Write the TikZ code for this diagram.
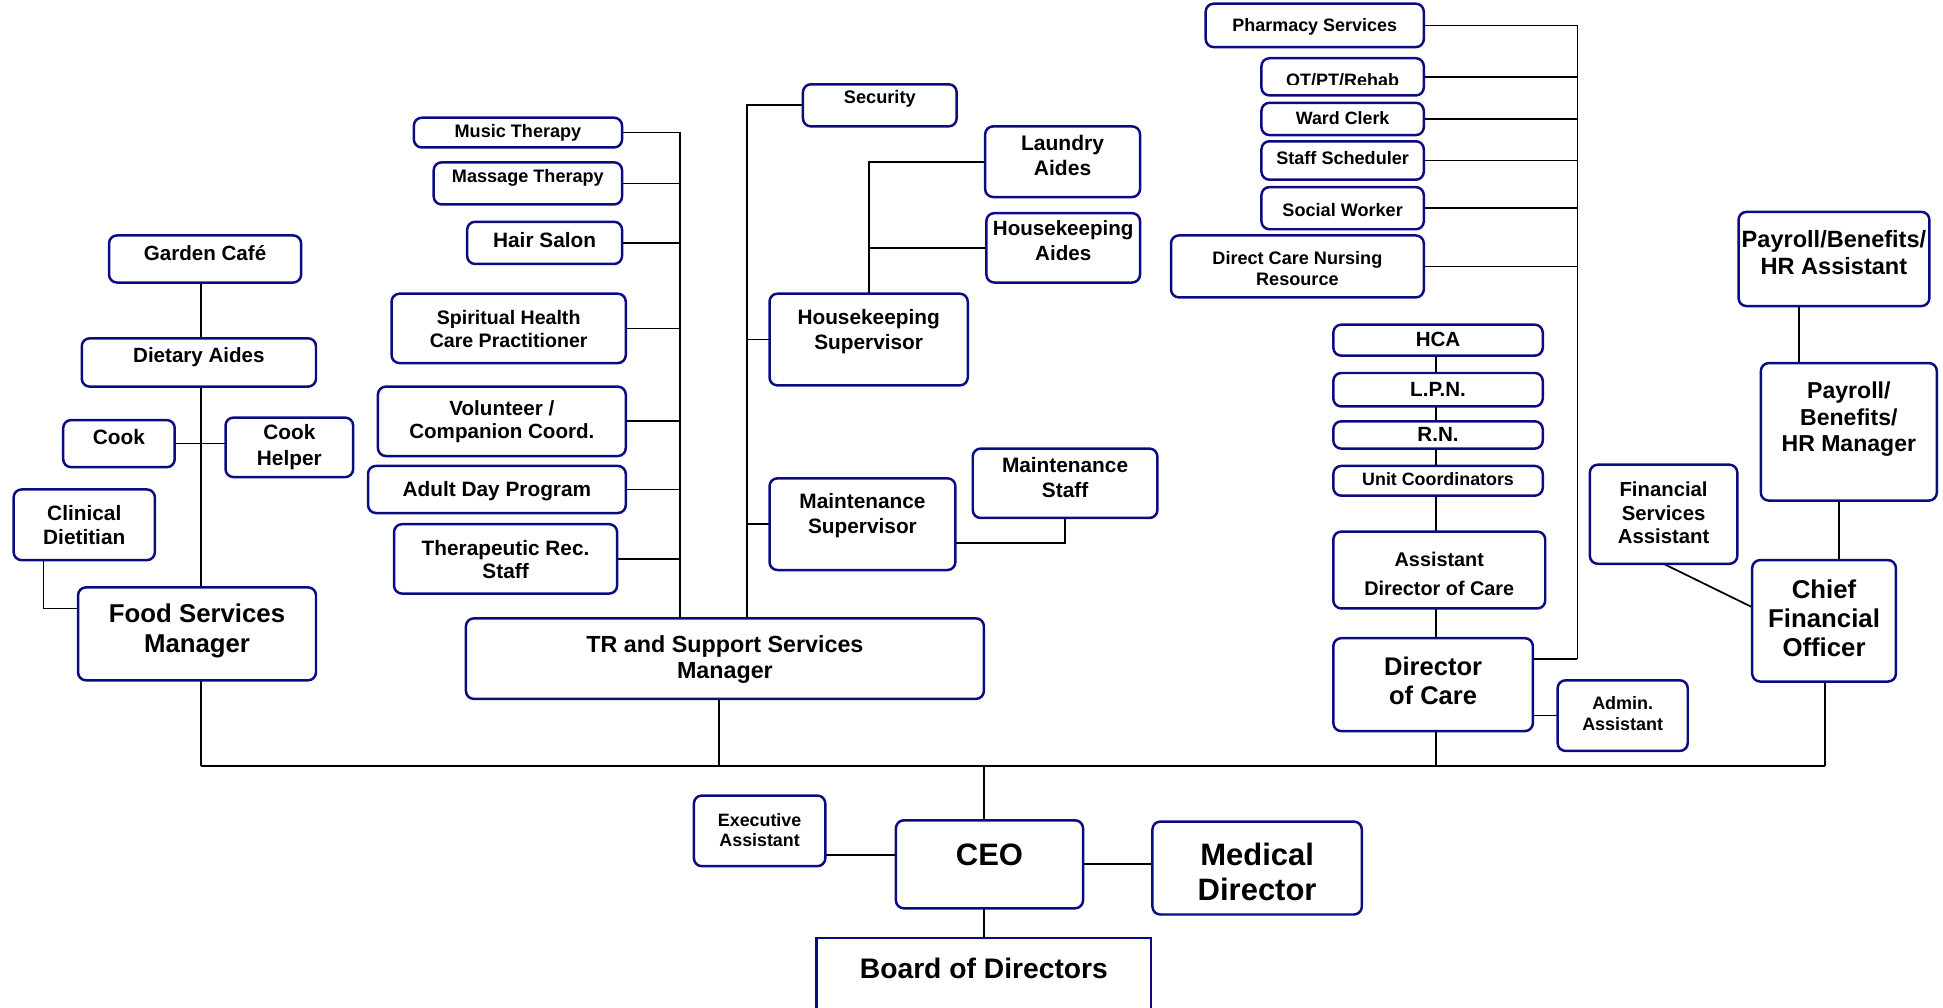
\documentclass[tikz,border=0pt]{standalone}
\usepackage{fontspec}
\setmainfont{Liberation Sans}
\definecolor{navy}{RGB}{12,12,130}
\pgfdeclarelayer{bg}
\pgfsetlayers{bg,main}
\newcommand\fs[2]{\fontsize{#1pt}{#2pt}\selectfont\bfseries}
\tikzset{
  orgbox/.style={draw=navy, line width=1pt, rounded corners=3.2pt, fill=white, inner sep=0pt, outer sep=0pt},
  orgtext/.style={align=center, inner sep=0pt, text=black},
  link/.style={draw=black, line width=0.7pt},
}
% #1 extra style, #2 name, #3 x1, #4 y1, #5 x2, #6 y2, #7 text y, #8 font, #9 text
\newcommand\obox[9][]{%
  \pgfmathsetmacro\obw{(#5-#3)*0.5}%
  \pgfmathsetmacro\obh{(#6-#4)*0.5}%
  \node[orgbox, minimum width=\obw pt, minimum height=\obh pt, #1] (#2) at ({(#3+#5)/2},{(#4+#6)/2}) {};%
  \node[orgtext, font=#8] (#2-t) at ({(#3+#5)/2},#7) {#9};%
}
\begin{document}
\begin{tikzpicture}[x=0.5pt, y=-0.5pt]
\path[use as bounding box] (0,0) rectangle (1568,813);
\clip (0,0) rectangle (1568,813);
% ---------- left group
\obox{garden}{88}{190}{243}{228}{204}{\fs{8.3}{10}}{Garden Café}
\obox{diet}{66}{273}{255}{312}{288}{\fs{8.3}{10}}{Dietary Aides}
\obox{cook}{51}{339}{141}{377}{353}{\fs{8.4}{10}}{Cook}
\obox{helper}{182}{337}{285}{385}{361}{\fs{8.4}{10.5}}{Cook\\Helper}
\obox{clin}{11}{395}{125}{452}{424}{\fs{8.4}{9.7}}{Clinical\\Dietitian}
\obox{fsm}{63}{474}{255}{549}{509}{\fs{10.4}{12}}{Food Services\\Manager}
% ---------- TR group
\obox{mus}{334}{95}{502}{119}{107}{\fs{7.3}{8}}{Music Therapy}
\obox{mas}{350}{131}{502}{165}{143.5}{\fs{7.3}{8}}{Massage Therapy}
\obox{hair}{377}{179}{502}{213}{193.5}{\fs{8.4}{10}}{Hair Salon}
\obox{spir}{316}{237}{505}{293}{265.5}{\fs{7.9}{9.3}}{Spiritual Health\\Care Practitioner}
\obox{vol}{305}{312}{505}{368}{340.5}{\fs{8.3}{9.4}}{Volunteer /\\Companion Coord.}
\obox{adult}{297}{376}{505}{414}{396}{\fs{8.4}{10}}{Adult Day Program}
\obox{ther}{318}{423}{498}{479}{451.5}{\fs{8.4}{9.4}}{Therapeutic Rec.\\Staff}
\obox{trm}{376}{499}{794}{564}{532.5}{\fs{9.4}{10.4}}{TR and Support Services\\Manager}
% ---------- support group
\obox{sec}{648}{68}{772}{102}{80}{\fs{7.35}{8}}{Security}
\obox{laun}{795}{102}{920}{159}{125.5}{\fs{8.5}{10}}{Laundry\\Aides}
\obox{haid}{796}{172}{920}{228}{194.5}{\fs{8.3}{10}}{Housekeeping\\Aides}
\obox{hsup}{621}{237}{781}{311}{267.5}{\fs{8.4}{10}}{Housekeeping\\Supervisor}
\obox{msup}{621}{386}{771}{460}{416}{\fs{8.4}{10}}{Maintenance\\Supervisor}
\obox{mst}{785}{362}{934}{418}{385.5}{\fs{8.4}{9.8}}{Maintenance\\Staff}
% ---------- care group
\obox{pharm}{973}{3}{1149}{38}{22}{\fs{7.25}{8}}{Pharmacy Services}
\node[orgbox, minimum width=65.5pt, minimum height=15pt] (otpt) at (1083.5,62) {};
\begin{scope}
  \clip (1018,40) rectangle (1149,68.4);
  \node[orgtext, font=\fs{7.25}{8}, anchor=base] (otpt-t) at (1083.5,69.5) {OT/PT/Rehab};
\end{scope}
\obox{ward}{1018}{83}{1149}{109}{95.5}{\fs{7.2}{8}}{Ward Clerk}
\obox{sched}{1018}{114}{1149}{145}{127.5}{\fs{7.3}{8}}{Staff Scheduler}
\obox{soc}{1018}{151}{1149}{185}{169.5}{\fs{7.3}{8}}{Social Worker}
\obox{dcnr}{945}{190}{1149}{240}{217}{\fs{7.3}{8.4}}{Direct Care Nursing\\Resource}
\obox{hca}{1076}{262}{1245}{287}{274}{\fs{8.3}{9}}{HCA}
\obox{lpn}{1076}{301}{1245}{328}{314}{\fs{8.3}{9}}{L.P.N.}
\obox{rn}{1076}{340}{1245}{362}{350.5}{\fs{8.3}{9}}{R.N.}
\obox{uc}{1076}{376}{1245}{400}{386.5}{\fs{7.2}{8}}{Unit Coordinators}
\obox{adoc}{1076}{429}{1247}{491}{463}{\fs{8}{11.7}}{Assistant\\Director of Care}
\obox{doc}{1076}{515}{1237}{590}{549.5}{\fs{10.3}{11.8}}{Director\\of Care}
\obox{adm}{1257}{549}{1362}{606}{576}{\fs{7.25}{8.5}}{Admin.\\Assistant}
% ---------- finance group
\obox{pbha}{1403}{171}{1557}{247}{204}{\fs{9.5}{10.7}}{Payroll/Benefits/\\HR Assistant}
\obox{pbhm}{1421}{293}{1563}{404}{338.5}{\fs{9.3}{10.7}}{Payroll/\\Benefits/\\HR Manager}
\obox{fsa}{1283}{375}{1402}{455}{414}{\fs{8.2}{9.5}}{Financial\\Services\\Assistant}
\obox{cfo}{1414}{452}{1530}{550}{499}{\fs{10.4}{11.8}}{Chief\\Financial\\Officer}
% ---------- executive
\obox{exec}{560}{642}{666}{699}{670}{\fs{7.2}{8.2}}{Executive\\Assistant}
\obox{ceo}{723}{662}{874}{733}{689.5}{\fs{12.5}{14}}{CEO}
\obox{med}{930}{663}{1099}{738}{703.5}{\fs{12.5}{14.2}}{Medical\\Director}
\obox[rounded corners=0pt]{bod}{659}{757}{929}{840}{781.5}{\fs{11.4}{13}}{Board of Directors}
% ---------- connectors
\begin{pgfonlayer}{bg}
  \coordinate (lv) at (162,618);
  \draw[link] (garden.south -| lv) -- (fsm.north -| lv);
  \draw[link] (cook.east) -- (cook.east -| helper.west);
  \coordinate (cl) at (35,491);
  \draw[link] (clin.south -| cl) |- (fsm.west |- cl);
  \draw[link] (fsm.south -| lv) -- (lv);
  \coordinate (busR) at (1473,618);
  \draw[link] (lv) -- (busR);
  \draw[link] (cfo.south -| busR) -- (busR);
  \coordinate (trb) at (580,618);
  \draw[link] (trm.south -| trb) -- (trb);
  \coordinate (ceob) at (794,618);
  \draw[link] (ceo.north -| ceob) -- (ceob);
  \draw[link] (ceo.south -| ceob) -- (bod.north -| ceob);
  \coordinate (docb) at (1159,618);
  \draw[link] (doc.south -| docb) -- (docb);
  \draw[link] (hca.south -| docb) -- (doc.north -| docb);
  \draw[link] (adm.west) -- (adm.west -| doc.east);
  \coordinate (exl) at (695,690);
  \draw[link] (exec.east |- exl) -- (ceo.west |- exl);
  \draw[link] (ceo.east) -- (ceo.east -| med.west);
  % TR bus
  \coordinate (trx) at (549,0);
  \draw[link] (mus.east) -| (trm.north -| trx);
  \foreach \n in {mas,hair,spir,vol,adult,ther}
    \draw[link] (\n.east) -- (\n.east -| trx);
  % support bus
  \coordinate (sbx) at (603,0);
  \draw[link] (sec.west) -| (trm.north -| sbx);
  \draw[link] (hsup.west) -- (hsup.west -| sbx);
  \draw[link] (msup.west) -- (msup.west -| sbx);
  \draw[link] (hsup.north) |- (laun.west);
  \draw[link] (haid.west) -- (haid.west -| hsup.north);
  \coordinate (msc) at (858,438);
  \draw[link] (msup.east |- msc) -| (mst.south);
  % care bus
  \coordinate (rbb) at (1273,532);
  \draw[link] (pharm.east) -| (rbb);
  \draw[link] (rbb) -- (doc.east |- rbb);
  \foreach \n in {otpt,ward,sched,soc,dcnr}
    \draw[link] (\n.east) -- (\n.east -| rbb);
  % finance
  \coordinate (pl) at (1452,0);
  \draw[link] (pbha.south -| pl) -- (pbhm.north -| pl);
  \coordinate (pcl) at (1484,0);
  \draw[link] (pbhm.south -| pcl) -- (cfo.north -| pcl);
  \coordinate (fsc) at (1414,490);
  \draw[link] (fsa.south) -- (cfo.west |- fsc);
\end{pgfonlayer}
\end{tikzpicture}
\end{document}
